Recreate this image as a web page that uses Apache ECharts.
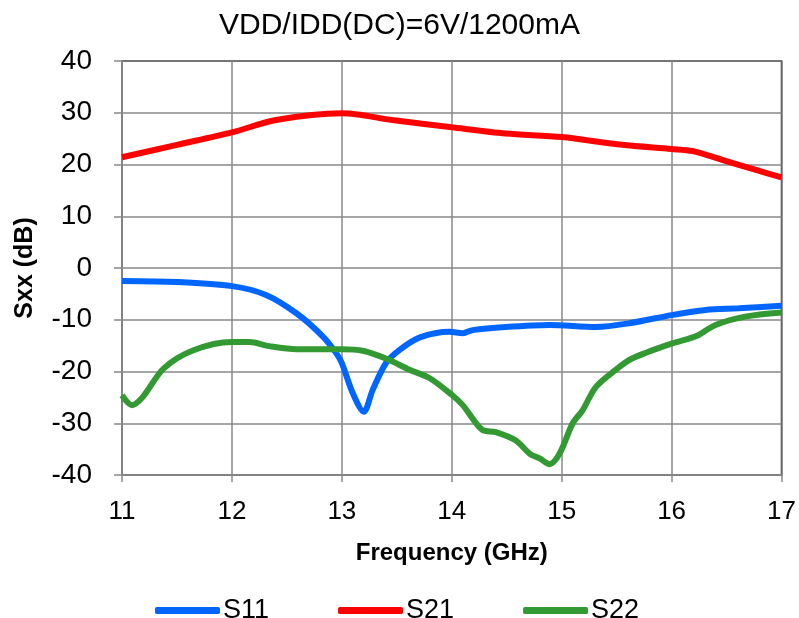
<!DOCTYPE html>
<html>
<head>
<meta charset="utf-8">
<script src="https://cdn.jsdelivr.net/npm/echarts@6/dist/echarts.min.js"></script>
<style>
  html, body { margin: 0; padding: 0; background: #fff; }
  #chart { width: 799px; height: 618px; }
</style>
</head>
<body>
<div id="chart"></div>
<script>
// S-parameters vs frequency
var freqS11 = [11, 11.5, 12, 12.31, 12.59, 12.83, 12.95, 13.0, 13.1, 13.2, 13.28, 13.4, 13.52, 13.71, 13.98, 14.1, 14.19, 14.49, 14.89, 15.31, 15.61, 16, 16.31, 16.61, 17]
var s11 = [-2.5, -2.7, -3.5, -5.2, -8.8, -13.3, -16.5, -18.4, -24.2, -27.8, -23.6, -18.4, -15.9, -13.4, -12.3, -12.6, -12.0, -11.4, -11.0, -11.4, -10.7, -9.1, -8.1, -7.8, -7.3]

var freqS21 = [11, 11.5, 12, 12.4, 13, 13.46, 14, 14.49, 15, 15.55, 16, 16.19, 16.46, 16.76, 17]
var s21 = [21.4, 23.8, 26.2, 28.6, 29.9, 28.6, 27.2, 26.0, 25.3, 23.8, 23.0, 22.6, 20.9, 19.0, 17.5]

var freqS22 = [11, 11.09, 11.19, 11.38, 11.65, 12, 12.16, 12.34, 12.59, 13, 13.19, 13.4, 13.62, 13.8, 14, 14.1, 14.28, 14.4, 14.58, 14.71, 14.8, 14.89, 14.98, 15.1, 15.19, 15.31, 15.49, 15.64, 16, 16.22, 16.4, 16.67, 17]
var s22 = [-24.6, -26.5, -24.9, -19.4, -15.9, -14.3, -14.3, -15.1, -15.7, -15.7, -16.0, -17.5, -19.7, -21.3, -24.5, -26.5, -31.3, -31.7, -33.3, -35.9, -36.8, -37.9, -35.9, -30.0, -27.5, -23.0, -19.7, -17.5, -14.6, -13.2, -11.0, -9.4, -8.6]

var seriesNames = ['S11', 'S21', 'S22']

function pairs(xs, ys) {
  return xs.map(function (x, i) { return [x, ys[i]] })
}

var font = '"Liberation Sans", Arial, sans-serif'

var chart = echarts.init(document.getElementById('chart'))

function line(name, data, color) {
  return {
    name: name,
    type: 'line',
    data: data,
    smooth: 0.3,
    showSymbol: false,
    lineStyle: { color: color, width: 6 },
    itemStyle: { color: color }
  }
}

chart.setOption({
  backgroundColor: '#FFFFFF',
  animation: false,
  title: {
    text: 'VDD/IDD(DC)=6V/1200mA',
    left: 'center',
    top: 6,
    textStyle: { fontFamily: font, fontSize: 30, fontWeight: 'normal', color: '#000' }
  },
  grid: {
    left: 122,
    right: 16,
    top: 61,
    bottom: 143,
    show: true,
    borderColor: '#000',
    borderWidth: 1.5
  },
  legend: {
    data: seriesNames,
    left: 150,
    top: 592,
    icon: 'roundRect',
    itemWidth: 65,
    itemHeight: 7,
    itemGap: 69,
    textStyle: { fontFamily: font, fontSize: 27, color: '#000', padding: [0, 0, 0, -2] }
  },
  xAxis: {
    type: 'value',
    min: 11,
    max: 17,
    interval: 1,
    name: 'Frequency (GHz)',
    nameLocation: 'middle',
    nameGap: 66,
    nameTextStyle: { fontFamily: font, fontSize: 24, fontWeight: 'bold', color: '#000' },
    axisLine: { onZero: false, lineStyle: { color: '#888', width: 1.5 } },
    axisTick: { show: true, length: 7, lineStyle: { color: '#888', width: 1.5 } },
    axisLabel: { fontFamily: font, fontSize: 26, color: '#000', margin: 24 },
    splitLine: { show: true, lineStyle: { color: '#888', width: 1.5 } }
  },
  yAxis: {
    type: 'value',
    min: -40,
    max: 40,
    interval: 10,
    name: 'Sxx (dB)',
    nameLocation: 'middle',
    nameGap: 84,
    nameTextStyle: { fontFamily: font, fontSize: 25, fontWeight: 'bold', color: '#000' },
    axisLine: { show: true, lineStyle: { color: '#888', width: 1.5 } },
    axisTick: { show: true, length: 8, lineStyle: { color: '#888', width: 1.5 } },
    axisLabel: { fontFamily: font, fontSize: 28, color: '#000', margin: 30 },
    splitLine: { show: true, lineStyle: { color: '#888', width: 1.5 } }
  },
  series: [
    line(seriesNames[0], pairs(freqS11, s11), '#0066FF'),
    line(seriesNames[1], pairs(freqS21, s21), '#FF0000'),
    line(seriesNames[2], pairs(freqS22, s22), '#339933')
  ]
})
</script>
</body>
</html>
